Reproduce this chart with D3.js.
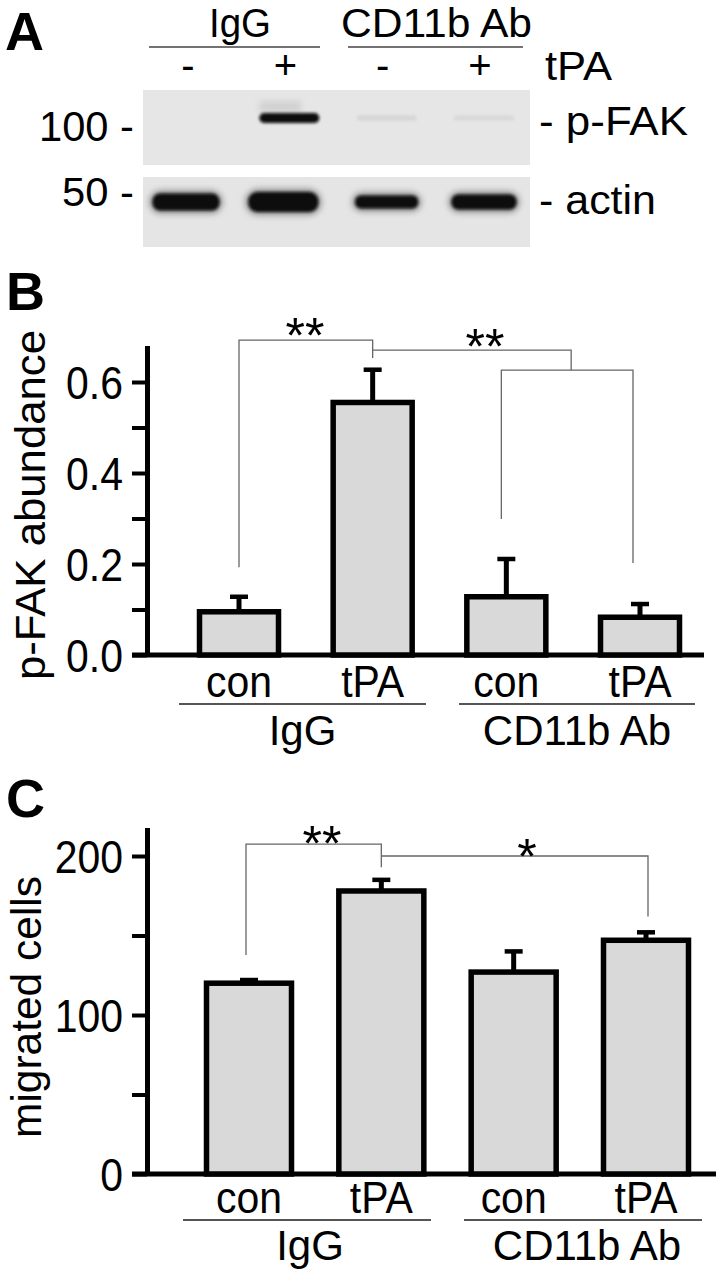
<!DOCTYPE html>
<html><head><meta charset="utf-8">
<script src="https://cdn.jsdelivr.net/npm/d3@7"></script>
<style>
html,body{margin:0;padding:0;background:#fff;}
svg{display:block;}
text{font-family:"Liberation Sans", Arial, Helvetica, sans-serif; fill:#000;}
</style></head><body>
<svg id="fig" width="719" height="1270"></svg>
<script>
// ---------------- data ----------------
const tpaSigns = ["-", "+", "-", "+"];
const antibodyGroups = ["IgG", "CD11b Ab"];
const pfakBandIntensity = [0.0, 1.0, 0.06, 0.05];
const actinBandIntensity = [0.85, 1.0, 0.65, 0.75];
const markerLabels = ["100 -", "50 -"];
const blotLabels = ["- p-FAK", "- actin"];
const categories = ["con", "tPA", "con", "tPA"];
const pfakMean = [0.095, 0.555, 0.128, 0.083];
const pfakSem = [0.033, 0.072, 0.083, 0.029];
const pfakTicks = [0, 0.1, 0.2, 0.3, 0.4, 0.5, 0.6];
const pfakTickLabels = ["0.0", "", "0.2", "", "0.4", "", "0.6"];
const migratedMean = [120, 178, 127, 147];
const migratedSem = [2, 7, 13, 5];
const migratedTicks = [0, 50, 100, 150, 200];
const migratedTickLabels = ["0", "", "100", "", "200"];

// ---------------- drawing ----------------
const svg = d3.select("#fig");
const defs = svg.append("defs");
defs.append("filter").attr("id", "b1").attr("x", "-20%").attr("y", "-100%").attr("width", "140%").attr("height", "300%")
  .append("feGaussianBlur").attr("stdDeviation", 1.4);
defs.append("filter").attr("id", "b3").attr("x", "-30%").attr("y", "-150%").attr("width", "160%").attr("height", "400%")
  .append("feGaussianBlur").attr("stdDeviation", 3);

// squeeze text horizontally (condensed look)
function condense(sel, k) {
  sel.each(function () {
    const L = this.getComputedTextLength();
    if (L > 0) d3.select(this).attr("textLength", L * k).attr("lengthAdjust", "spacingAndGlyphs");
  });
}
function panelLetter(t, x, y) {
  svg.append("text").attr("x", x).attr("y", y).attr("font-size", 54).attr("font-weight", "bold").text(t);
}
function fixedText(g, t, x, y, size, len, anchor) {
  return g.append("text").attr("x", x).attr("y", y).attr("font-size", size)
    .attr("text-anchor", anchor || "start")
    .attr("textLength", len).attr("lengthAdjust", "spacingAndGlyphs").text(t);
}

// ===== Panel A =====
panelLetter("A", 5, 50);
const gA = svg.append("g");
const lane = d3.scalePoint().domain(d3.range(4)).range([188, 480]);
const groupSpanA = [[149, 320], [348, 523]];
antibodyGroups.forEach((g, i) => {
  const [a, b] = groupSpanA[i];
  gA.append("line").attr("x1", a).attr("x2", b).attr("y1", 47).attr("y2", 47)
    .attr("stroke", "#444").attr("stroke-width", 1.6);
});
fixedText(gA, antibodyGroups[0], 209, 37, 40, 62);
fixedText(gA, antibodyGroups[1], 341, 37, 40, 191);
gA.selectAll(".sign").data(tpaSigns).enter().append("text")
  .attr("x", (d, i) => lane(i)).attr("y", 79).attr("text-anchor", "middle").attr("font-size", 40).text(d => d);
fixedText(gA, "tPA", 545, 80, 41, 67);

// blots
const blot1 = {x: 143, y: 90, w: 387, h: 75};
const blot2 = {x: 143, y: 177, w: 387, h: 70};
gA.append("rect").attr("x", blot1.x).attr("y", blot1.y).attr("width", blot1.w).attr("height", blot1.h).attr("fill", "#e6e6e6");
gA.append("rect").attr("x", blot2.x).attr("y", blot2.y).attr("width", blot2.w).attr("height", blot2.h).attr("fill", "#e5e5e5");
const darkScale = d3.interpolateRgb("#e3e3e3", "#080808");
pfakBandIntensity.forEach((v, i) => {
  if (v <= 0) return;
  const cx = lane(i) + 4;
  if (v > 0.5) {
    gA.append("rect").attr("x", cx - 30).attr("y", 101).attr("width", 42).attr("height", 11)
      .attr("fill", "#c8c8c8").attr("opacity", v * 0.7).attr("filter", "url(#b3)");
  }
  const w = 60, h = 5 + 5 * v;
  gA.append("rect").attr("x", cx - w / 2).attr("y", 118 - h / 2).attr("width", w).attr("height", h).attr("rx", h / 2)
    .attr("fill", darkScale(v)).attr("filter", "url(#b1)");
});
actinBandIntensity.forEach((v, i) => {
  const cx = lane(i) + (i < 2 ? -2 : 4);
  const w = 50 + 20 * v, h = 20 * v;
  gA.append("rect").attr("x", cx - w / 2 - 3).attr("y", 202 - h / 2 - 3).attr("width", w + 6).attr("height", h + 6).attr("rx", (h + 6) / 2)
    .attr("fill", "#555").attr("opacity", 0.6).attr("filter", "url(#b3)");
  gA.append("rect").attr("x", cx - w / 2).attr("y", 202 - h / 2).attr("width", w).attr("height", h).attr("rx", h / 2.2)
    .attr("fill", "#0c0c0c").attr("filter", "url(#b1)");
});
// marker / blot labels
fixedText(gA, markerLabels[0], 134, 141, 42, 95, "end");
fixedText(gA, markerLabels[1], 134, 206, 41, 72, "end");
fixedText(gA, blotLabels[0], 539, 135, 40, 149);
fixedText(gA, blotLabels[1], 539, 214, 40, 117);

// ===== bar chart helper =====
function barChart(cfg) {
  const g = svg.append("g");
  const y = d3.scaleLinear().domain(cfg.yDomain).range(cfg.yRange);
  const x = d3.scalePoint().domain(d3.range(cfg.means.length)).range(cfg.xRange);
  // x axis line
  g.append("line").attr("x1", cfg.axisX - 15).attr("x2", cfg.xAxisEnd).attr("y1", y(0)).attr("y2", y(0))
    .attr("stroke", "#000").attr("stroke-width", 5);
  // bars
  g.selectAll(".bar").data(cfg.means).enter().append("rect")
    .attr("x", (d, i) => x(i) - cfg.barW / 2).attr("y", d => y(d))
    .attr("width", cfg.barW).attr("height", d => y(0) - y(d))
    .attr("fill", "#d9d9d9").attr("stroke", "#000").attr("stroke-width", 5.5);
  // error bars
  cfg.means.forEach((m, i) => {
    const top = y(m + cfg.sems[i]);
    g.append("line").attr("x1", x(i)).attr("x2", x(i)).attr("y1", y(m)).attr("y2", top)
      .attr("stroke", "#000").attr("stroke-width", 5);
    g.append("line").attr("x1", x(i) - 9).attr("x2", x(i) + 9).attr("y1", top).attr("y2", top)
      .attr("stroke", "#000").attr("stroke-width", 4.5);
  });
  // y axis
  const ax = g.append("g").attr("transform", `translate(${cfg.axisX},0)`)
    .call(d3.axisLeft(y).tickValues(cfg.ticks).tickFormat((d, i) => cfg.tickLabels[i])
      .tickSize(15).tickPadding(9).tickSizeOuter(0));
  ax.attr("font-family", null).attr("font-size", null);
  ax.select(".domain").attr("stroke-width", 5);
  ax.selectAll(".tick line").attr("stroke-width", 4);
  ax.selectAll(".tick text").attr("font-size", 46).attr("dy", "0.36em").call(condense, 0.89);
  // y label
  g.append("text").attr("transform", `translate(${cfg.labelX},${cfg.labelY}) rotate(-90)`)
    .attr("text-anchor", "middle").attr("font-size", 42).text(cfg.yLabel)
    .attr("textLength", cfg.labelLen).attr("lengthAdjust", "spacingAndGlyphs");
  // category labels
  g.selectAll(".cat").data(categories).enter().append("text")
    .attr("x", (d, i) => x(i)).attr("y", cfg.catY).attr("text-anchor", "middle").attr("font-size", 45).text(d => d)
    .call(condense, 0.91);
  // group lines / labels
  antibodyGroups.forEach((name, k) => {
    const [a, b] = cfg.groupSpans[k];
    g.append("line").attr("x1", a).attr("x2", b).attr("y1", cfg.groupLineY).attr("y2", cfg.groupLineY)
      .attr("stroke", "#555").attr("stroke-width", 2);
    g.append("text").attr("x", (a + b) / 2 + cfg.groupShift[k]).attr("y", cfg.groupY).attr("text-anchor", "middle")
      .attr("font-size", 42).text(name).call(condense, 1.0);
  });
  // significance brackets
  cfg.brackets.forEach(p => {
    g.append("path").attr("d", p(x, y)).attr("fill", "none").attr("stroke", "#666").attr("stroke-width", 1.3);
  });
  cfg.stars.forEach(s => {
    g.append("text").attr("x", s.x).attr("y", s.y + 28).attr("text-anchor", "middle")
      .attr("font-size", 50).text(s.t);
  });
  return {x, y};
}

// ===== Panel B =====
panelLetter("B", 6, 310);
barChart({
  means: pfakMean, sems: pfakSem,
  yDomain: [0, 0.68], yRange: [655, 655 - 0.68 * 455],
  xRange: [239, 640], barW: 79, axisX: 147, xAxisEnd: 704,
  ticks: pfakTicks, tickLabels: pfakTickLabels,
  yLabel: "p-FAK abundance", labelX: 45, labelY: 505, labelLen: 350,
  catY: 697, groupLineY: 704, groupSpans: [[179, 426], [459, 695]], groupShift: [0, 0], groupY: 745,
  brackets: [
    (x, y) => `M${x(0)},${y(0.193)}V${y(0.692)}H${x(1)}V${y(0.653)}`,
    (x, y) => `M${x(1)},${y(0.67)}H${(x(2) + x(3)) / 2 - 2}V${y(0.626)}`,
    (x, y) => `M${x(2) - 5},${y(0.299)}V${y(0.626)}H${x(3) - 7}V${y(0.202)}`
  ],
  stars: [{x: 305, y: 325, t: "**"}, {x: 485, y: 336, t: "**"}]
});

// ===== Panel C =====
panelLetter("C", 6, 817);
barChart({
  means: migratedMean, sems: migratedSem,
  yDomain: [0, 218], yRange: [1174, 1174 - 218 * 1.59],
  xRange: [249, 646], barW: 85, axisX: 147, xAxisEnd: 716,
  ticks: migratedTicks, tickLabels: migratedTickLabels,
  yLabel: "migrated cells", labelX: 41, labelY: 1007, labelLen: 262,
  catY: 1213, groupLineY: 1220, groupSpans: [[183, 431], [464, 702]], groupShift: [3, 4], groupY: 1260,
  brackets: [
    (x, y) => `M${x(0) - 3},${y(137.7)}V${y(207.5)}H${x(1)}V${y(193)}`,
    (x, y) => `M${x(1)},${y(200)}H${x(3) + 2}V${y(162)}`
  ],
  stars: [{x: 322, y: 833, t: "**"}, {x: 527, y: 846, t: "*"}]
});
</script>
</body></html>
